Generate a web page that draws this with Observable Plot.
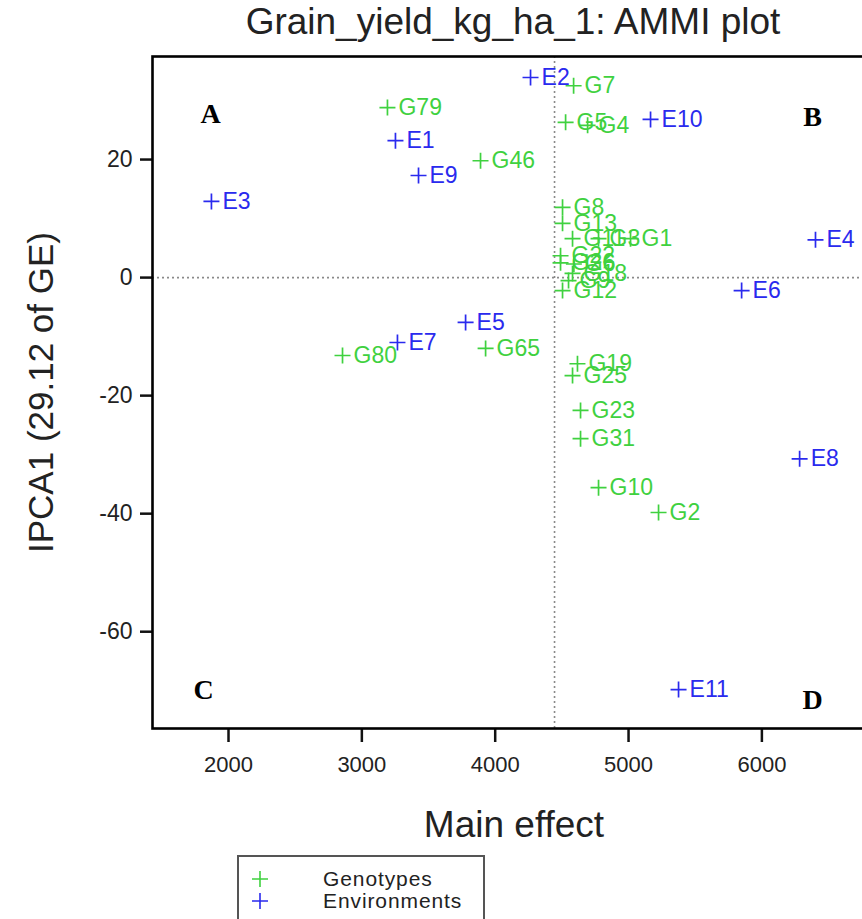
<!DOCTYPE html>
<html><head><meta charset="utf-8">
<script src="https://cdn.jsdelivr.net/npm/d3@7"></script>
<script src="https://cdn.jsdelivr.net/npm/@observablehq/plot@0.6"></script>
<style>
html,body{margin:0;padding:0;background:#fff;overflow:hidden;width:862px;height:919px;}
#chart{position:absolute;left:0;top:0;width:890px;}
#chart svg{display:block;overflow:visible;max-width:none !important;}
#legend{position:absolute;left:237px;top:855px;width:244px;height:72px;border:2px solid #555;background:#fff;
  font-family:"Liberation Sans",Arial,sans-serif;font-size:21px;letter-spacing:0.9px;color:#222;}
.row{position:absolute;left:0;height:22px;line-height:22px;}
.row svg{position:absolute;left:12px;top:2px;}
.row span{position:absolute;left:84px;white-space:nowrap;}
</style>
</head><body>
<div id="chart"></div>
<div id="legend"></div>
<script>
// ---- data ----
const titleText = "Grain_yield_kg_ha_1: AMMI plot";
const xLabel = "Main effect";
const yLabel = "IPCA1 (29.12 of GE)";
const xTicks = [2000, 3000, 4000, 5000, 6000];
const yTicks = [-60, -40, -20, 0, 20];
const grandMean = 4445;

const genotypes = ["G79","G46","G7","G5","G4","G8","G13","G11","G3","G1","G22","G26","G6","G18","G9","G12","G80","G65","G19","G25","G23","G31","G10","G2"];
const genoX = [3192, 3890, 4588, 4528, 4693, 4505, 4505, 4580, 4775, 5015, 4490, 4490, 4590, 4580, 4550, 4505, 2855, 3928, 4617, 4580, 4640, 4640, 4775, 5225];
const genoY = [28.8, 19.8, 32.5, 26.3, 25.8, 11.9, 9.2, 6.6, 6.6, 6.6, 3.7, 2.5, 2.3, 0.7, -0.5, -2.2, -13.2, -12.0, -14.6, -16.6, -22.5, -27.3, -35.6, -39.8];

const environments = ["E2","E10","E1","E9","E3","E4","E6","E5","E7","E8","E11"];
const envX = [4265, 5165, 3252, 3425, 1872, 6402, 5848, 3778, 3267, 6283, 5375];
const envY = [33.9, 26.8, 23.2, 17.3, 12.9, 6.4, -2.2, -7.6, -11.0, -30.7, -69.8];

const quadrantLabels = ["A", "B", "C", "D"];
const legendLabels = ["Genotypes", "Environments"];

// ---- styles ----
const green = "#3fd13f";
const blue = "#2a2aee";
const font = "Liberation Sans, Arial, sans-serif";

const geno = genotypes.map((name, i) => ({name, x: genoX[i], y: genoY[i]}));
const env = environments.map((name, i) => ({name, x: envX[i], y: envY[i]}));
const quadAnchors = ["top-left", "top-right", "bottom-left", "bottom-right"];
const quadDx = [58, -69, 51, -69];
const quadDy = [58, 61, -38, -28];

const plus = {
  draw(ctx, size) {
    const r = Math.sqrt(size / Math.PI);
    ctx.moveTo(-r, 0); ctx.lineTo(r, 0);
    ctx.moveTo(0, -r); ctx.lineTo(0, r);
  }
};

const quadMarks = quadrantLabels.map((name, i) =>
  Plot.text([name], {frameAnchor: quadAnchors[i], text: d => d, dx: quadDx[i], dy: quadDy[i],
    textAnchor: "middle", lineAnchor: "middle",
    fontFamily: "Liberation Serif, Times New Roman, serif", fontWeight: "bold", fontSize: 28, fill: "#000"}));

const chart = Plot.plot({
  width: 890,
  height: 850,
  marginLeft: 152,
  marginRight: 9,
  marginTop: 56,
  marginBottom: 122,
  style: {fontFamily: font, background: "#fff", overflow: "visible", maxWidth: "none"},
  x: {domain: [1430, 6897]},
  y: {domain: [-76.4, 37.46]},
  marks: [
    Plot.ruleY([0], {stroke: "#8a8a8a", strokeWidth: 1.6, strokeDasharray: "2,3"}),
    Plot.ruleX([grandMean], {stroke: "#8a8a8a", strokeWidth: 1.6, strokeDasharray: "2,3"}),
    Plot.axisX({ticks: xTicks, tickSize: 14, tickPadding: 14, fontSize: 22, strokeWidth: 2.5, stroke: "#111", fill: "#222", label: null, tickFormat: d => String(d)}),
    Plot.axisY({ticks: yTicks, tickSize: 12, tickPadding: 8, fontSize: 23, strokeWidth: 2.5, stroke: "#111", fill: "#222", label: null, tickFormat: d => String(d)}),
    Plot.dot(geno, {x: "x", y: "y", symbol: plus, r: 8, fill: "none", stroke: green, strokeWidth: 1.7}),
    Plot.text(geno, {x: "x", y: "y", text: "name", dx: 11, textAnchor: "start", fill: green, fontSize: 23}),
    Plot.dot(env, {x: "x", y: "y", symbol: plus, r: 8, fill: "none", stroke: blue, strokeWidth: 1.7}),
    Plot.text(env, {x: "x", y: "y", text: "name", dx: 11, textAnchor: "start", fill: blue, fontSize: 23}),
    ...quadMarks,
    Plot.frame({stroke: "#000", strokeWidth: 2.6}),
    Plot.text([titleText], {frameAnchor: "top", lineAnchor: "middle", textAnchor: "middle", text: d => d, dy: -34, dx: -4, fontSize: 37, fill: "#222"}),
    Plot.text([xLabel], {frameAnchor: "bottom", lineAnchor: "middle", textAnchor: "middle", text: d => d, dy: 97, dx: -3, fontSize: 37, fill: "#222"}),
    Plot.text([yLabel], {frameAnchor: "left", lineAnchor: "middle", textAnchor: "middle", text: d => d, rotate: -90, dx: -111, fontSize: 35, fill: "#222"})
  ]
});
document.getElementById("chart").appendChild(chart);

// legend (HTML, built from arrays)
const legend = document.getElementById("legend");
[green, blue].forEach((c, i) => {
  const row = document.createElement("div");
  row.className = "row";
  row.style.top = (11 + i * 22) + "px";
  row.innerHTML = `<svg width="18" height="18"><path d="M1,9H17M9,1V17" stroke="${c}" stroke-width="1.6" fill="none"/></svg><span>${legendLabels[i]}</span>`;
  legend.appendChild(row);
});
</script>
</body></html>
